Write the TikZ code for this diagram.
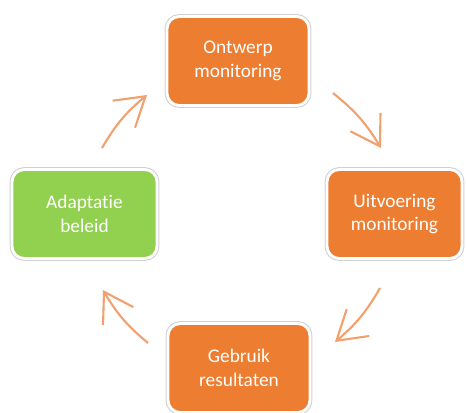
\documentclass[tikz,border=0pt]{standalone}
\usepackage{fontspec}
\setmainfont{Carlito}[Ligatures=NoCommon]
\usepackage{tikz}
\usetikzlibrary{arrows.meta}

\definecolor{stageorange}{RGB}{237,125,49}
\definecolor{stagegreen}{RGB}{146,208,80}
\definecolor{cyclearrow}{RGB}{242,160,110}

\begin{document}
\begin{tikzpicture}[x=0.02cm,y=-0.02cm]
  \tikzset{stage/.style = {shape=rectangle,rounded corners=7pt,fill=stageorange,draw=white,line width=1.6pt,
      preaction={draw=black!18,line width=2.8pt},minimum width=2.84cm,minimum height=1.78cm,
      align=center,text=white,font=\fontsize{11}{13.5}\selectfont}}
  \tikzset{cycle/.style = {draw=cyclearrow,line width=1.2pt,-{Straight Barb[length=16pt,width=20pt,line width=1.2pt]}}}
  \useasboundingbox (0,0) rectangle (466,412);
	\node[stage] (O) at (238,61) {Ontwerp\\monitoring};
	\node[stage,minimum width=2.7cm] (U) at (394.5,214) {Uitvoering\\monitoring};
	\node[stage] (G) at (239,368) {Gebruik\\resultaten};
	\node[stage,fill=stagegreen,minimum width=2.9cm] (A) at (84.5,214) {Adaptatie\\beleid};

	\coordinate (OUs) at (333,93);  \coordinate (OUe) at (381,148);
	\coordinate (UGs) at (380,288); \coordinate (UGe) at (335,342);
	\coordinate (GAs) at (148,343); \coordinate (GAe) at (103,290);
	\coordinate (AOs) at (102,148); \coordinate (AOe) at (147,95);

       \foreach \from/\to in {OUs/OUe, UGs/UGe, GAs/GAe, AOs/AOe}
    \draw[cycle] (\from) to[bend left=10] (\to);
\end{tikzpicture}
\end{document}
